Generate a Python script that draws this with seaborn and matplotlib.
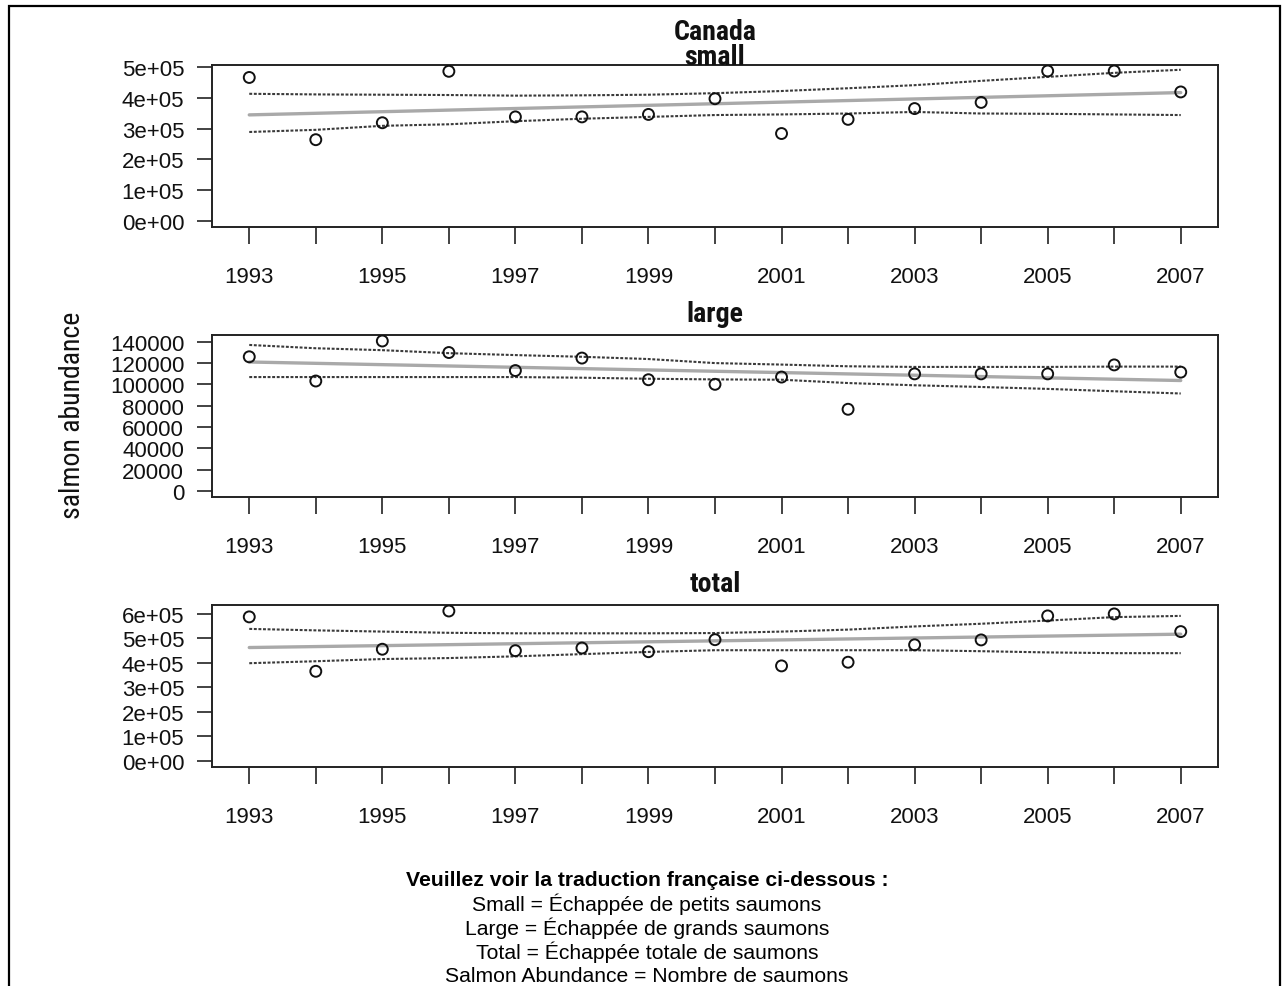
import matplotlib
matplotlib.use("Agg")
import matplotlib.pyplot as plt
from matplotlib import font_manager as fm
from matplotlib.patches import Rectangle
import seaborn as sns

# ---- data -------------------------------------------------------------
years = [1993, 1994, 1995, 1996, 1997, 1998, 1999, 2000,
         2001, 2002, 2003, 2004, 2005, 2006, 2007]
year_labels = ["1993", "", "1995", "", "1997", "", "1999", "",
               "2001", "", "2003", "", "2005", "", "2007"]

small = [466000, 264000, 319000, 486000, 338000, 338000, 346000, 397000,
         284000, 330000, 365000, 385000, 487000, 487000, 419000]
small_lo = [289000, 296000, 309000, 314000, 324000, 332000, 338000, 344000,
            346000, 349000, 354000, 349000, 348000, 346000, 344000]
small_hi = [413000, 411000, 410000, 409000, 407000, 408000, 410000, 415000,
            422000, 431000, 441000, 455000, 468000, 481000, 491000]
small_ticks = [0, 100000, 200000, 300000, 400000, 500000]
small_tick_labels = ["0e+00", "1e+05", "2e+05", "3e+05", "4e+05", "5e+05"]

large = [125800, 103100, 140600, 129800, 112900, 124600, 104300, 100000,
         106800, 76600, 109800, 109800, 109800, 118200, 111400]
large_lo = [106800, 106800, 106800, 106800, 106800, 106200, 105200, 104600,
            104300, 101200, 99100, 97500, 95700, 93500, 91400]
large_hi = [136900, 133800, 132000, 129200, 127400, 125800, 123700, 119900,
            118500, 116900, 116300, 116300, 116300, 116600, 116600]
large_ticks = [0, 20000, 40000, 60000, 80000, 100000, 120000, 140000]
large_tick_labels = ["0", "20000", "40000", "60000", "80000", "100000",
                     "120000", "140000"]

total = [588000, 366000, 456000, 612000, 450000, 461000, 446000, 495000,
         388000, 403000, 474000, 494000, 592000, 600000, 528000]
total_lo = [399000, 407000, 416000, 420000, 427000, 436000, 445000, 452000,
            452000, 452000, 452000, 448000, 443000, 440000, 440000]
total_hi = [539000, 533000, 528000, 523000, 521000, 521000, 521000, 522000,
            528000, 536000, 549000, 560000, 573000, 587000, 592000]
total_ticks = [0, 100000, 200000, 300000, 400000, 500000, 600000]
total_tick_labels = ["0e+00", "1e+05", "2e+05", "3e+05", "4e+05", "5e+05",
                     "6e+05"]

panel_titles = ["Canada\nsmall", "large", "total"]
y_label = "salmon abundance"
note_title = "Veuillez voir la traduction française ci-dessous :"
note_lines = ["Small = Échappée de petits saumons",
              "Large = Échappée de grands saumons",
              "Total = Échappée totale de saumons",
              "Salmon Abundance = Nombre de saumons"]

# ---- style ------------------------------------------------------------
sns.set_theme(style="ticks")
plt.rcParams["font.family"] = ["Liberation Sans", "DejaVu Sans"]

# condensed face for titles and the axis label, if one is available
installed = {f.name for f in fm.fontManager.ttflist}
condensed = None
for cand in ["Liberation Sans Narrow", "Arial Narrow", "Roboto Condensed",
             "Noto Sans Condensed", "Open Sans Condensed",
             "DejaVu Sans Condensed"]:
    if cand in installed:
        condensed = cand
        break
if condensed is None:
    for f in fm.fontManager.ttflist:
        if "ondensed" in str(f.stretch) or "arrow" in f.name or "ondensed" in f.name:
            condensed = f.name
            break
NARROW = [condensed, "Liberation Sans"] if condensed else ["Liberation Sans"]
narrow_scale = 1.18 if condensed else 1.0

W, H = 1288, 987
fig = plt.figure(figsize=(W / 100, H / 100), dpi=100)
fig.patch.set_facecolor("white")

# panel boxes in pixel units: (left, top, right, bottom)
boxes = [(212, 66, 1218, 228), (212, 336, 1218, 498), (212, 606, 1218, 768)]

panels = [
    (small, small_lo, small_hi, small_ticks, small_tick_labels),
    (large, large_lo, large_hi, large_ticks, large_tick_labels),
    (total, total_lo, total_hi, total_ticks, total_tick_labels),
]

for (l, t, r, b), title, (vals, lo, hi, ticks, tlabels) in zip(boxes, panel_titles, panels):
    ax = fig.add_axes([l / W, 1 - b / H, (r - l) / W, (b - t) / H])
    ax.set_facecolor("white")

    # confidence band limits (dotted)
    sns.lineplot(x=years, y=lo, ax=ax, color="#3a3a3a", lw=1.5,
                 linestyle=(0, (1.4, 0.8)))
    sns.lineplot(x=years, y=hi, ax=ax, color="#3a3a3a", lw=1.5,
                 linestyle=(0, (1.4, 0.8)))
    # linear trend
    sns.regplot(x=years, y=vals, ax=ax, scatter=False, ci=None,
                line_kws=dict(color="#a9a9a9", lw=2.4))
    # observations
    ax.scatter(years, vals, s=62, facecolors="none", edgecolors="#111111",
               linewidths=1.4, zorder=5)

    span = 2007 - 1993
    ax.set_xlim(1993 - 0.04 * span, 2007 + 0.04 * span)
    vmax = max(vals)
    ax.set_ylim(-0.04 * vmax, vmax * 1.04)

    ax.set_xticks(years)
    ax.set_xticklabels(year_labels)
    ax.set_yticks(ticks)
    ax.set_yticklabels(tlabels)
    ax.set_xlabel("")
    ax.set_ylabel("")
    ax.tick_params(axis="x", direction="out", length=12, width=1.2,
                   color="#222222", labelsize=16, pad=16, labelcolor="#111111")
    ax.tick_params(axis="y", direction="out", length=11, width=1.2,
                   color="#222222", labelsize=16, pad=9, labelcolor="#111111")
    for sp in ax.spines.values():
        sp.set_visible(True)
        sp.set_color("#222222")
        sp.set_linewidth(1.4)
    ax.grid(False)

    ax.text(0.5, 1 + 21 / (b - t), title, transform=ax.transAxes,
            ha="center", va="center", fontsize=17 * narrow_scale,
            fontweight="bold", family=NARROW, linespacing=0.95,
            color="#111111")

fig.text(72 / W, 1 - 415 / H, y_label, rotation=90, ha="center",
         va="center", fontsize=17 * narrow_scale, family=NARROW,
         color="#111111")

# translation note under the panels
fig.text(647 / W, 1 - 880 / H, note_title, ha="center", va="center",
         fontsize=15.2, fontweight="bold", color="#000000")
for i, line in enumerate(note_lines):
    fig.text(647 / W, 1 - (904 + 24.3 * i) / H, line, ha="center",
             va="center", fontsize=15.2, color="#000000")

# outer frame
fig.add_artist(Rectangle((9 / W, -0.02), (1280 - 9) / W, 1.02 - 7 / H,
                         transform=fig.transFigure, fill=False,
                         edgecolor="black", lw=1.6))

fig.savefig("out.png", dpi=100)
